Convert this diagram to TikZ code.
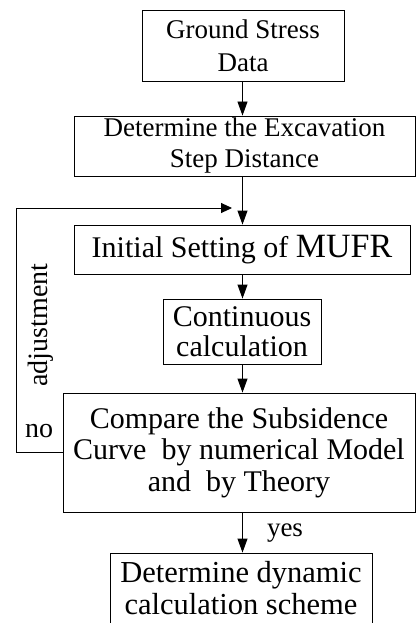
\documentclass[tikz,border=0pt]{standalone}
\usepackage{fontspec}
\setmainfont{Liberation Serif}
\usetikzlibrary{arrows.meta}
\begin{document}
\begin{tikzpicture}[x=1pt,y=-1pt,
  box/.style={draw,line width=0.9pt,inner sep=0pt,align=center,anchor=center},
  arr/.style={line width=0.9pt,-{Triangle[length=14pt,width=10pt]}},
  harr/.style={line width=0.9pt,-{Triangle[length=11pt,width=10pt]}},
  lbl/.style={inner sep=0pt,anchor=center}]
\useasboundingbox (0,0) rectangle (416,623);
\node[box,minimum width=202pt,minimum height=71pt,font=\fontsize{27}{33}\selectfont] (b1) at (243,45.5) {Ground Stress\\Data};
\node[box,minimum width=341pt,minimum height=60pt,font=\fontsize{27}{31}\selectfont] (b2) at (244.5,146) {Determine the Excavation\\Step Distance};
\node[box,minimum width=336pt,minimum height=49pt,font=\fontsize{30}{34}\selectfont] (b3) at (242,249.5) {Initial Setting of {\fontsize{34}{38}\selectfont MUFR}};
\node[box,minimum width=158pt,minimum height=65pt,font=\fontsize{30}{30}\selectfont] (b4) at (242,331.5) {Continuous\\calculation};
\node[box,minimum width=352pt,minimum height=119pt,font=\fontsize{30}{31.5}\selectfont] (b5) at (239,452.5) {Compare the Subsidence\\Curve~ by numerical Model\\and~ by Theory};
\node[box,minimum width=262pt,minimum height=80pt] (b6) at (241,593) {};
\node[lbl,align=center,font=\fontsize{30.5}{32}\selectfont] (b6t) at (241,588) {Determine dynamic\\calculation scheme};
\coordinate (ax) at (242.5,0);
\coordinate (fbtop) at (16,208);
\coordinate (fbend) at (232,208);
\draw[arr] (b1.south -| ax) -- (b2.north -| ax);
\draw[arr] (b2.south -| ax) -- (b3.north -| ax);
\draw[arr] (b3.south -| ax) -- (b4.north -| ax);
\draw[arr] (b4.south -| ax) -- (b5.north -| ax);
\draw[arr] (b5.south -| ax) -- (b6.north -| ax);
\draw[harr] (b5.west) -| (fbtop) -- (fbend);
\node[lbl,rotate=90,font=\fontsize{28}{28}\selectfont] (adj) at (41,325) {adjustment};
\node[lbl,font=\fontsize{28}{28}\selectfont] (no) at (39,431) {no};
\node[lbl,font=\fontsize{27}{27}\selectfont] (yes) at (285,533) {yes};
\end{tikzpicture}
\end{document}
